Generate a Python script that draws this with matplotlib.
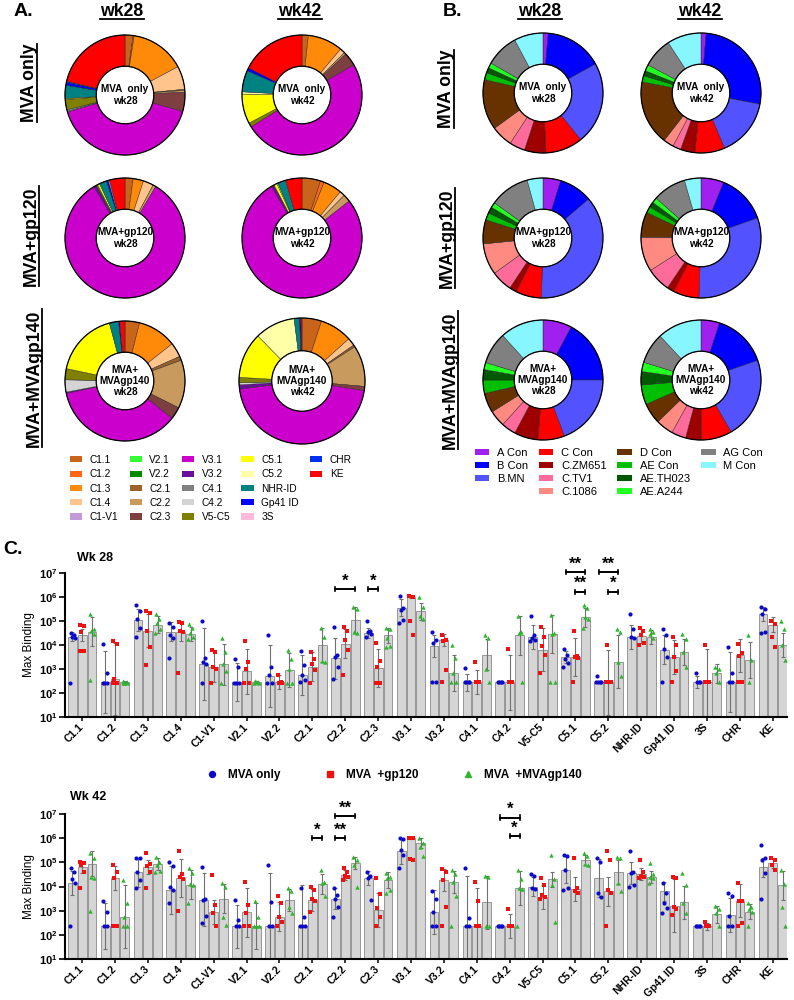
import numpy as np
import matplotlib
matplotlib.use('Agg')
import matplotlib.pyplot as plt
from matplotlib.patches import Patch, Circle
from matplotlib.lines import Line2D
from matplotlib.ticker import FixedLocator, FuncFormatter, NullFormatter, LogLocator

plt.rcParams['font.family'] = ['Liberation Sans', 'DejaVu Sans']
plt.rcParams['mathtext.fontset'] = 'custom'
plt.rcParams['mathtext.rm'] = 'Liberation Sans'
plt.rcParams['mathtext.bf'] = 'Liberation Sans:bold'

# ---------------------------------------------------------------- data
# Panel A: epitope categories (legend order, clockwise from 12 o'clock)
epitopes = ['C1.1', 'C1.2', 'C1.3', 'C1.4', 'C1-V1', 'V2.1', 'V2.2', 'C2.1', 'C2.2',
            'C2.3', 'V3.1', 'V3.2', 'C4.1', 'C4.2', 'V5-C5', 'C5.1', 'C5.2', 'NHR-ID',
            'Gp41 ID', '3S', 'CHR', 'KE']
epitope_colors = ['#C8651A', '#FF6618', '#FF8A0A', '#FFC48C', '#C49AD6', '#33FF33',
                  '#008A00', '#99622C', '#C99A5E', '#7E3F40', '#CC00CC', '#68109A',
                  '#808080', '#D4D4D4', '#808000', '#FFFF00', '#FFFFA8', '#008282',
                  '#0000FF', '#FFBADA', '#0030F0', '#FF0000']
# percent of response per epitope
A_mva_wk28 = [2.2, 0.3, 15.0, 6.4, 0, 0, 0, 0.3, 0.5, 5.3, 41.7, 0, 0.3, 0.3, 2.8, 0.3, 0, 3.6, 0.8, 0, 0.3, 21.7]
A_mva_wk42 = [1.7, 0, 9.4, 1.4, 0, 0, 0, 0, 0.5, 3.6, 49.4, 0, 0, 0, 1.1, 8.0, 0.6, 5.8, 0.8, 0, 0, 17.5]
A_gp120_wk28 = [2.2, 0, 2.8, 2.8, 0, 0, 0, 0, 0.8, 0, 83.0, 0.8, 0, 0, 0.3, 0.6, 0, 2.0, 0.5, 0.3, 0, 4.2]
A_gp120_wk42 = [5.0, 1.0, 5.0, 1.4, 0, 0, 0, 0, 2.0, 0, 77.0, 0.8, 0, 0, 0, 0.8, 0.3, 2.2, 0, 0, 0, 4.4]
A_gp140_wk28 = [3.9, 0, 10.5, 3.9, 0, 0, 0, 1.1, 13.0, 3.3, 36.1, 0.3, 0, 3.3, 3.0, 17.5, 0, 2.5, 0.3, 0, 0, 1.4]
A_gp140_wk42 = [5.0, 0, 8.3, 2.0, 0, 0, 0, 0.5, 10.5, 1.1, 45.3, 1.1, 0, 0.5, 1.4, 11.7, 10.3, 1.4, 0.3, 0, 0, 0.3]

# Panel B: gp120/gp140 antigens
antigens = ['A Con', 'B Con', 'B.MN', 'C Con', 'C.ZM651', 'C.TV1', 'C.1086', 'D Con',
            'AE Con', 'AE.TH023', 'AE.A244', 'AG Con', 'M Con']
antigen_colors = ['#A020F0', '#0000FF', '#5252FF', '#FF0000', '#9E0000', '#FF6C9C',
                  '#FF8A82', '#683200', '#00BE00', '#005800', '#22FF22', '#808080', '#88F6FF']
B_mva_wk28 = [1.4, 15.6, 22.2, 10.0, 5.8, 4.2, 5.8, 13.6, 1.9, 1.4, 1.4, 8.9, 7.8]
B_mva_wk42 = [1.4, 26.7, 15.6, 8.1, 3.9, 2.2, 2.8, 17.5, 1.7, 1.4, 1.7, 8.1, 9.2]
B_gp120_wk28 = [4.7, 8.9, 36.1, 6.9, 1.9, 5.6, 8.3, 6.4, 1.9, 1.7, 1.4, 10.6, 4.2]
B_gp120_wk42 = [6.1, 13.3, 30.6, 6.9, 1.9, 6.4, 9.2, 6.7, 1.7, 1.4, 1.4, 8.9, 4.4]
B_gp140_wk28 = [7.8, 17.2, 19.2, 7.2, 6.4, 3.9, 4.4, 5.3, 3.6, 2.8, 1.9, 8.6, 11.7]
B_gp140_wk42 = [5.0, 14.7, 21.9, 8.3, 4.2, 3.9, 4.7, 5.6, 5.3, 3.6, 2.5, 8.3, 11.9]

groups = ['MVA only', 'MVA  +gp120', 'MVA  +MVAgp140']

# Panel C: log10(max binding); bar height, error half-width (log10), animal points
wk28_mva_bar = [4.35, 2.45, 5.05, 4.55, 3.2, 2.45, 2.7, 2.75, 3.45, 4.5, 5.55, 3.95, 2.45, 2.45, 4.35, 3.5, 2.45, 4.35, 3.8, 2.45, 2.45, 5.28]
wk28_mva_err = [0.2, 1.3, 0.45, 0.4, 1.5, 0.8, 1.3, 0.85, 0.85, 0.2, 0.35, 0.45, 0.35, 0.0, 0.5, 0.25, 0.05, 0.5, 0.6, 0.25, 1.25, 0.3]
wk28_mva_pts = [[4.5, 4.42, 4.35, 4.3, 2.4], [4.05, 2.85, 2.4, 2.4, 2.4], [5.65, 5.4, 5.1, 4.7, 4.35],
                [4.9, 4.75, 4.4, 4.3, 3.45], [5.0, 3.45, 3.3, 3.2, 2.4], [3.4, 3.1, 2.4, 2.4, 2.4],
                [4.4, 3.1, 2.75, 2.4, 2.4], [3.75, 3.15, 2.75, 2.55, 2.45], [4.73, 3.6, 3.5, 3.1, 2.6],
                [5.0, 4.6, 4.55, 4.45, 4.35], [6.05, 5.55, 5.45, 5.05, 4.9], [4.55, 4.2, 4.1, 2.45, 2.45],
                [3.05, 2.45, 2.45, 2.45, 2.45], [2.45, 2.45, 2.45, 2.45], [5.2, 4.4, 4.3, 4.2, 4.15],
                [3.85, 3.6, 3.4, 3.25, 3.1], [2.7, 2.45, 2.45, 2.45, 2.45], [5.28, 4.67, 4.35, 4.28],
                [4.67, 4.4, 3.85, 3.5, 2.45], [2.82, 2.45, 2.45, 2.45], [3.92, 2.82, 2.45, 2.45],
                [5.6, 5.5, 5.3, 4.55, 4.5]]
wk28_gp120_bar = [4.4, 2.6, 4.6, 4.55, 3.1, 2.9, 2.45, 3.1, 4.05, 3.05, 6.0, 4.2, 2.45, 2.45, 3.8, 3.5, 2.45, 4.37, 3.5, 2.45, 3.57, 4.85]
wk28_gp120_err = [0.25, 1.5, 0.7, 0.4, 0.65, 0.95, 0.3, 0.6, 0.6, 0.8, 0.05, 0.25, 0.5, 1.15, 0.9, 0.8, 1.35, 0.3, 0.7, 1.4, 0.7, 0.3]
wk28_gp120_pts = [[4.85, 4.8, 4.55, 3.75, 3.75], [4.15, 4.05, 2.6, 2.4, 2.4], [5.4, 5.35, 4.6, 3.9, 3.15],
                  [4.95, 4.9, 4.6, 4.55, 2.85], [3.8, 3.7, 3.1, 3.0, 2.4], [4.15, 3.3, 3.0, 2.4, 2.4],
                  [2.75, 2.45, 2.4, 2.4], [3.7, 3.4, 3.2, 2.95, 2.4], [4.73, 4.6, 4.2, 3.8, 2.75],
                  [4.1, 3.35, 3.1, 2.4, 2.4], [6.05, 6.0, 5.0, 4.4], [4.4, 4.2, 4.15, 2.95, 2.45],
                  [3.3, 2.45, 2.45, 2.45], [3.85, 2.45, 2.45, 2.45], [4.75, 4.35, 3.95, 3.6, 2.85],
                  [4.6, 3.55, 3.5, 3.45, 2.45], [4.0, 2.45, 2.45, 2.45, 2.45], [4.7, 4.6, 4.4, 4.1, 4.0],
                  [4.33, 4.0, 3.5, 2.9, 2.45], [4.0, 2.45, 2.45, 2.45, 2.45], [4.05, 3.65, 3.55, 2.45, 2.45],
                  [5.0, 4.88, 4.33, 3.92]]
wk28_gp140_bar = [4.55, 2.45, 4.85, 4.45, 3.2, 2.45, 2.95, 4.0, 5.05, 4.4, 5.4, 2.85, 3.6, 4.4, 4.45, 5.15, 3.3, 4.33, 3.7, 2.82, 3.37, 4.0]
wk28_gp140_err = [0.6, 0.05, 0.35, 0.3, 0.85, 0.05, 0.7, 0.7, 0.55, 0.3, 0.35, 0.75, 0.65, 0.8, 0.8, 0.4, 1.1, 0.3, 0.55, 0.4, 0.75, 0.5]
wk28_gp140_pts = [[5.3, 4.65, 4.6, 4.45, 2.55], [2.5, 2.45, 2.4, 2.4, 2.4], [5.28, 5.1, 4.9, 4.65, 4.5],
                  [4.88, 4.7, 4.5, 4.35, 4.25], [4.3, 3.7, 3.2, 2.9, 2.4], [2.5, 2.45, 2.45, 2.4, 2.4],
                  [3.8, 3.4, 3.0, 2.4, 2.4], [4.7, 4.35, 3.35, 3.3], [5.6, 5.5, 4.55, 4.5],
                  [4.7, 4.65, 4.3, 3.95, 3.9], [6.0, 5.6, 5.2, 5.1], [4.0, 3.45, 2.85, 2.45, 2.45],
                  [4.4, 4.3, 3.0, 2.45], [5.2, 4.55, 4.5, 2.45], [5.25, 4.5, 4.45, 2.45, 2.45],
                  [5.65, 5.55, 5.15, 5.1, 4.7], [4.67, 4.55, 3.3, 2.7], [4.67, 4.55, 4.45, 4.3],
                  [4.47, 4.25, 3.7, 3.1], [3.1, 3.0, 2.82, 2.45], [4.4, 3.37, 2.45],
                  [5.0, 4.67, 4.0, 3.37]]

wk42_mva_bar = [4.15, 2.35, 4.6, 3.85, 3.45, 2.35, 2.35, 2.35, 3.5, 4.35, 5.45, 2.95, 2.35, 2.35, 4.0, 4.7, 4.35, 4.55, 3.8, 2.35, 2.82, 4.8]
wk42_mva_err = [0.5, 0.95, 0.6, 1.0, 1.1, 0.9, 2.2, 1.7, 0.45, 0.3, 0.5, 0.9, 2.1, 0.0, 0.4, 0.55, 0.8, 0.45, 0.4, 0.0, 0.7, 0.4]
wk42_mva_pts = [[4.75, 4.6, 4.3, 4.15, 2.35], [3.4, 2.95, 2.35, 2.35], [5.2, 5.18, 4.6, 4.27, 3.93],
                [5.03, 4.83, 4.0, 3.85, 3.3], [4.8, 3.5, 3.45, 2.8, 2.5], [3.45, 2.6, 2.35, 2.35],
                [4.9, 3.35, 2.35, 2.35], [3.95, 2.75, 2.35, 2.35, 2.35], [3.95, 3.65, 3.5, 3.15, 2.75],
                [4.62, 4.45, 4.35, 3.45], [6.0, 5.95, 5.5, 5.3, 4.75], [3.8, 3.5, 2.95, 2.35, 2.35],
                [4.75, 2.7, 2.35, 2.35], [2.35, 2.35, 2.35, 2.35], [4.5, 4.45, 3.95, 3.9],
                [5.3, 5.25, 4.7, 3.95, 3.85], [5.17, 5.03, 3.72, 3.58], [5.45, 4.6, 4.55, 4.05, 4.0],
                [4.13, 3.72, 3.3, 3.1, 2.9], [2.35, 2.35, 2.35, 2.35], [3.75, 3.6, 2.8, 2.35, 2.35],
                [5.73, 5.17, 5.1, 4.55, 3.5]]
wk42_gp120_bar = [4.8, 4.35, 4.8, 4.35, 2.95, 2.93, 2.75, 3.44, 4.48, 3.03, 6.0, 4.27, 2.35, 2.35, 3.58, 3.9, 3.8, 4.5, 3.2, 2.35, 3.42, 4.96]
wk42_gp120_err = [0.25, 0.5, 0.3, 0.8, 0.5, 1.0, 0.6, 0.45, 0.2, 0.7, 0.05, 0.45, 1.6, 0.5, 0.5, 0.5, 0.6, 0.25, 1.1, 0.15, 0.7, 0.2]
wk42_gp120_pts = [[5.03, 4.98, 4.9, 4.6, 3.95], [4.9, 4.6, 4.35, 2.35, 2.35], [5.38, 4.95, 4.83, 4.6, 3.93],
                  [5.45, 4.5, 4.4, 4.3, 3.0], [4.48, 3.25, 2.9, 2.35], [4.2, 3.25, 2.9, 2.35, 2.35],
                  [3.6, 3.3, 2.75, 2.55, 2.35], [4.0, 3.86, 3.5, 3.4, 2.95], [4.75, 4.6, 4.45, 4.4, 4.27],
                  [4.35, 3.7, 3.1, 2.75, 2.35], [6.0, 6.0, 5.15, 5.1], [4.72, 4.6, 4.27, 3.15, 2.35],
                  [4.2, 3.4, 2.35, 2.35], [3.05, 2.35, 2.35, 2.35], [4.35, 4.05, 3.65, 3.55, 3.5],
                  [5.17, 3.95, 3.8, 3.75], [5.45, 5.1, 3.86, 3.75, 2.35], [5.1, 4.6, 4.45, 4.4, 4.35],
                  [4.4, 4.35, 3.17, 3.05, 2.82], [2.55, 2.35, 2.35, 2.35], [4.13, 3.4, 3.38, 2.5, 2.35],
                  [5.17, 5.1, 4.9, 4.68]]
wk42_gp140_bar = [4.95, 2.75, 4.95, 4.07, 3.5, 2.35, 3.45, 4.1, 4.96, 4.27, 5.8, 4.2, 3.34, 3.93, 4.3, 5.1, 4.6, 4.41, 3.34, 2.86, 2.96, 4.06]
wk42_gp140_err = [0.5, 1.3, 0.25, 0.6, 0.6, 0.95, 0.45, 0.4, 0.25, 0.35, 0.2, 0.45, 1.1, 0.7, 0.3, 0.2, 0.5, 0.25, 0.7, 0.35, 0.3, 0.6]
wk42_gp140_pts = [[5.37, 5.2, 4.4, 4.35, 3.0], [4.27, 3.3, 2.75, 2.35, 2.35], [5.24, 5.03, 4.9, 4.65, 4.6],
                  [4.75, 4.55, 4.1, 4.05, 3.3], [4.13, 4.0, 2.75, 2.4], [3.4, 2.75, 2.35, 2.35, 2.35],
                  [3.93, 3.8, 3.17, 2.9], [4.68, 4.2, 4.13, 3.6], [5.24, 5.1, 4.9, 4.0],
                  [4.55, 4.4, 4.35, 3.85, 3.72], [6.0, 5.8, 5.65, 5.25], [4.7, 4.5, 4.2, 3.6, 2.35],
                  [4.42, 4.4, 2.35, 2.35], [4.7, 4.3, 3.93, 3.9, 2.35], [5.3, 4.3, 4.05, 2.55],
                  [5.38, 5.25, 4.95, 4.9], [5.24, 5.17, 4.13, 3.8], [4.96, 4.5, 4.4, 4.35, 4.13],
                  [4.55, 4.06, 3.3, 2.9], [3.2, 3.05, 2.9, 2.35], [3.3, 3.17, 3.05, 2.95, 2.35],
                  [4.68, 4.1, 3.17, 2.35]]

# significance: (epitope, group a, group b, bracket level log10, label)
wk28_sig = [('C2.2', 0, 2, 6.32, '*'), ('C2.3', 0, 1, 6.32, '*'),
            ('C5.1', 0, 2, 7.05, '**'), ('C5.1', 1, 2, 6.22, '**'),
            ('C5.2', 0, 2, 7.05, '**'), ('C5.2', 1, 2, 6.22, '*')]
wk42_sig = [('C2.1', 1, 2, 6.0, '*'), ('C2.2', 0, 1, 6.0, '**'), ('C2.2', 0, 2, 6.92, '**'),
            ('C4.2', 0, 2, 6.85, '*'), ('C4.2', 1, 2, 6.09, '*')]

# ---------------------------------------------------------------- helpers
W, H = 794, 1000
fig = plt.figure(figsize=(W / 100, H / 100), dpi=100)
renderer = fig.canvas.get_renderer()


def rect(x, y, w, h):
    return [x / W, 1 - (y + h) / H, w / W, h / H]


def fx(x):
    return x / W


def fy(y):
    return 1 - y / H


def utext(x, y, s, rot=0, size=12.7, underline=True):
    t = fig.text(fx(x), fy(y), s, ha='center', va='center', rotation=rot,
                 fontsize=size, fontweight='bold')
    if underline:
        bb = t.get_window_extent(renderer)
        if rot == 0:
            yl = bb.y0 + 0.5
            fig.add_artist(Line2D([bb.x0 / W, bb.x1 / W], [yl / H, yl / H], color='black', lw=1.3))
        else:
            xl = bb.x1 - 0.5
            fig.add_artist(Line2D([xl / W, xl / W], [bb.y0 / H, bb.y1 / H], color='black', lw=1.3))
    return t


def donut(cx, cy, r, values, colors, label):
    pad = 1.04
    ax = fig.add_axes(rect(cx - r * pad, cy - r * pad, 2 * r * pad, 2 * r * pad))
    vals = [v for v in values if v > 0]
    cols = [c for v, c in zip(values, colors) if v > 0]
    ax.pie(vals, colors=cols, startangle=90, counterclock=False, radius=1,
           wedgeprops=dict(width=0.52, edgecolor='#222222', linewidth=0.3))
    ax.add_patch(Circle((0, 0), 1, fill=False, ec='black', lw=0.9))
    ax.add_patch(Circle((0, 0), 0.48, fill=False, ec='black', lw=0.9))
    ax.set_xlim(-pad, pad)
    ax.set_ylim(-pad, pad)
    ax.set_aspect('equal')
    ax.axis('off')
    ax.text(0, 0, label, ha='center', va='center', fontsize=7.2, fontweight='bold',
            linespacing=1.15)


# ---------------------------------------------------------------- panels A and B
fig.text(fx(14), fy(12), 'A.', fontsize=14, fontweight='bold', va='center')
fig.text(fx(443), fy(12), 'B.', fontsize=14, fontweight='bold', va='center')
for xh, s in [(122, 'wk28'), (300, 'wk42'), (540, 'wk28'), (700, 'wk42')]:
    utext(xh, 11, s)
for xr, yr, s in [(29, 83, 'MVA only'), (31, 236, 'MVA+gp120'), (34, 378, 'MVA+MVAgp140'),
                  (446, 89, 'MVA only'), (447, 238, 'MVA+gp120'), (450, 380, 'MVA+MVAgp140')]:
    utext(xr, yr, s, rot=90)

A_sets = [[A_mva_wk28, A_mva_wk42], [A_gp120_wk28, A_gp120_wk42], [A_gp140_wk28, A_gp140_wk42]]
B_sets = [[B_mva_wk28, B_mva_wk42], [B_gp120_wk28, B_gp120_wk42], [B_gp140_wk28, B_gp140_wk42]]
row_names = ['MVA  only\n{}', 'MVA+gp120\n{}', 'MVA+\nMVAgp140\n{}']
rows_y_A = [95, 238, 381]
rows_y_B = [93, 238, 380]
for ri in range(3):
    for ci, wk in enumerate(['wk28', 'wk42']):
        rA = 63 if (ri == 2 and ci == 1) else 60
        donut([125, 302][ci], rows_y_A[ri], rA, A_sets[ri][ci], epitope_colors, row_names[ri].format(wk))
        donut([543, 701][ci], rows_y_B[ri], 60, B_sets[ri][ci], antigen_colors, row_names[ri].format(wk))

blank = Patch(facecolor='none', edgecolor='none')
hA = [Patch(facecolor=c, edgecolor='none') for c in epitope_colors] + [blank] * 3
lA = list(epitopes) + [''] * 3
fig.legend(hA, lA, ncol=5, loc='upper left', bbox_to_anchor=(fx(70), fy(455)), frameon=False,
           fontsize=7.3, handlelength=1.2, handleheight=0.55, handletextpad=0.75,
           columnspacing=1.1, labelspacing=0.42, borderpad=0, borderaxespad=0)

hB = [Patch(facecolor=c, edgecolor='none') for c in antigen_colors]
hB = hB[:3] + [blank] + hB[3:] + [blank, blank]
lB = antigens[:3] + [''] + antigens[3:] + ['', '']
fig.legend(hB, lB, ncol=4, loc='upper left', bbox_to_anchor=(fx(475), fy(448)), frameon=False,
           fontsize=8, handlelength=1.3, handleheight=0.55, handletextpad=0.7,
           columnspacing=0.95, labelspacing=0.27, borderpad=0, borderaxespad=0)

# ---------------------------------------------------------------- panel C
BLUE, RED, GREEN = '#0A0AC8', '#F01010', '#2DB52D'
marks = [('o', BLUE, 9), ('s', RED, 9), ('^', GREEN, 10)]
offs = [-0.3, 0.0, 0.3]
jit = [-0.05, 0.05, -0.02, 0.07, -0.07]


def bar_panel(ax, bars, errs, pts, sigs):
    x = np.arange(len(epitopes))
    for g in range(3):
        bl = np.array(bars[g])
        el = np.array(errs[g])
        b = 10 ** bl
        lo = b - 10 ** (bl - el)
        hi = 10 ** (bl + el) - b
        xs = x + offs[g]
        ax.bar(xs, b - 1, bottom=1, width=0.27, color='#D5D5D5', edgecolor='#8A8A8A',
               linewidth=0.6, zorder=1)
        ax.errorbar(xs, b, yerr=[lo, hi], fmt='none', ecolor='#707070', elinewidth=0.8,
                    capsize=1.6, capthick=0.8, zorder=2)
        m, c, s = marks[g]
        for i, p in enumerate(pts[g]):
            ax.scatter(xs[i] + np.array(jit[:len(p)]), 10 ** np.array(p), marker=m, s=s,
                       color=c, linewidths=0, zorder=3)
    for cat, g1, g2, lev, lab in sigs:
        i = epitopes.index(cat)
        x1, x2 = i + offs[g1], i + offs[g2]
        y = 10 ** lev
        t = 10 ** 0.09
        ax.plot([x1, x2], [y, y], color='black', lw=1.4, clip_on=False, zorder=5)
        ax.plot([x1, x1], [y / t, y * t], color='black', lw=1.2, clip_on=False, zorder=5)
        ax.plot([x2, x2], [y / t, y * t], color='black', lw=1.2, clip_on=False, zorder=5)
        ax.text((x1 + x2) / 2, y * 10 ** 0.02, lab, ha='center', va='bottom', fontsize=12,
                fontweight='bold', clip_on=False, zorder=5)
    ax.set_yscale('log')
    ax.set_ylim(10, 1e7)
    ax.set_xlim(-0.52, 21.43)
    ax.yaxis.set_major_locator(FixedLocator([10.0 ** k for k in range(1, 8)]))
    ax.yaxis.set_major_formatter(FuncFormatter(lambda v, p: r'$\mathbf{10^{%d}}$' % round(np.log10(v))))
    ax.yaxis.set_minor_locator(LogLocator(base=10, subs=np.arange(2, 10)))
    ax.yaxis.set_minor_formatter(NullFormatter())
    ax.set_xticks(x)
    ax.set_xticklabels(epitopes, rotation=45, ha='right', va='center', rotation_mode='anchor',
                       fontsize=7.5, fontweight='bold')
    ax.tick_params(axis='y', which='major', labelsize=8, length=4, width=1.2, pad=1.5)
    ax.tick_params(axis='y', which='minor', length=2, width=0.8)
    ax.tick_params(axis='x', length=3, width=1.1, pad=3)
    for sp in ['top', 'right']:
        ax.spines[sp].set_visible(False)
    for sp in ['left', 'bottom']:
        ax.spines[sp].set_linewidth(1.5)
    ax.set_ylabel('Max Binding', fontsize=8.5)
    ax.yaxis.set_label_coords(-0.042, 0.5)


ax28 = fig.add_axes(rect(65, 573, 722, 144))
bar_panel(ax28, [wk28_mva_bar, wk28_gp120_bar, wk28_gp140_bar],
          [wk28_mva_err, wk28_gp120_err, wk28_gp140_err],
          [wk28_mva_pts, wk28_gp120_pts, wk28_gp140_pts], wk28_sig)
ax42 = fig.add_axes(rect(65, 814, 722, 145))
bar_panel(ax42, [wk42_mva_bar, wk42_gp120_bar, wk42_gp140_bar],
          [wk42_mva_err, wk42_gp120_err, wk42_gp140_err],
          [wk42_mva_pts, wk42_gp120_pts, wk42_gp140_pts], wk42_sig)

fig.text(fx(3), fy(549), 'C.', fontsize=14, fontweight='bold', va='center')
fig.text(fx(77), fy(558), 'Wk 28', fontsize=9, fontweight='bold', va='center')
fig.text(fx(70), fy(797), 'Wk 42', fontsize=9, fontweight='bold', va='center')

hC = [Line2D([], [], ls='none', marker=m, color=c, ms=4.3) for m, c, s in marks]
fig.legend(hC, groups, ncol=3, loc='center left', bbox_to_anchor=(fx(206), fy(775)),
           frameon=False, prop=dict(weight='bold', size=8.5), handlelength=1.0,
           handletextpad=0.9, columnspacing=3.65, borderpad=0, borderaxespad=0)

fig.savefig('out.png', dpi=100)
